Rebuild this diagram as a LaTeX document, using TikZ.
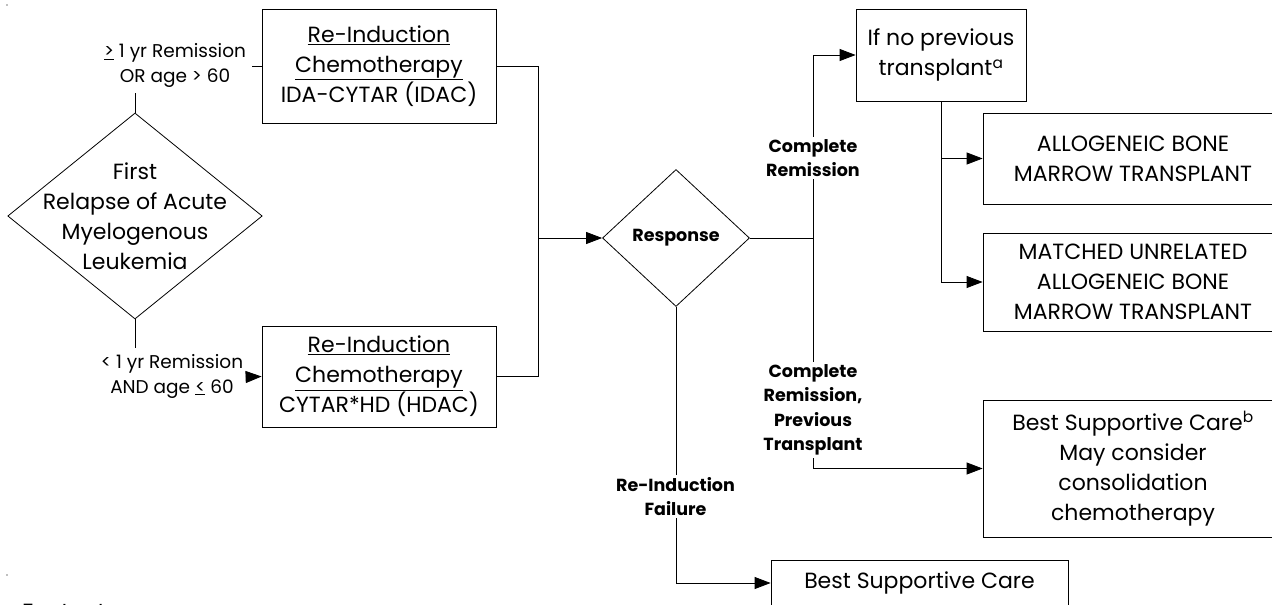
\documentclass[tikz,border=0pt]{standalone}
\usepackage{fontspec}
\setmainfont{Poppins}
\usetikzlibrary{arrows.meta,shapes.geometric}
\newcommand{\boxfont}{\fontsize{22}{30}\selectfont}
\newcommand{\labfont}{\fontsize{18.5}{24.5}\selectfont}
\newcommand{\blabfont}{\bfseries\fontsize{17.5}{24.5}\selectfont}
\tikzset{
  stepbox/.style={draw, line width=0.8pt, align=center, inner sep=0pt, font=\boxfont},
  dia/.style={draw, diamond, line width=0.8pt, inner sep=0pt, aspect=1},
  lab/.style={align=center, font=\labfont, inner sep=0pt},
  blab/.style={align=center, font=\blabfont, fill=white, inner sep=2pt},
  conn/.style={line width=0.8pt},
  arr/.style={line width=0.8pt, -{Triangle[length=16pt,width=12pt]}}
}
\begin{document}
\begin{tikzpicture}[x=1pt,y=-1pt]
\useasboundingbox (0,0) rectangle (1272,605);
\clip (0,0) rectangle (1272,605);
\fill[white] (0,0) rectangle (1272,605);
% tiny marks
\fill[gray] (7,5) circle (0.8);
\fill[gray] (7,575) circle (0.8);
% nodes
\node[dia, minimum width=254.5pt, minimum height=206pt] (d1) at (135,216) {};
\node[align=center, font=\boxfont] (d1t) at (135,216) {First\\Relapse of Acute\\Myelogenous\\Leukemia};
\node[stepbox, minimum width=234pt, minimum height=114pt] (b1) at (379,66)
  {\underline{Re-Induction}\\\underline{Chemotherapy}\\IDA-CYTAR (IDAC)};
\node[stepbox, minimum width=234pt, minimum height=101pt] (b2) at (379,376.5)
  {\underline{Re-Induction}\\\underline{Chemotherapy}\\CYTAR*HD (HDAC)};
\node[lab] (l1) at (175,65.5) {\underline{>} 1 yr Remission\\OR age > 60};
\node[lab] (l2) at (172,376.5) {< 1 yr Remission\\AND age \underline{<} 60};
\node[dia, minimum width=147pt, minimum height=137pt] (d2) at (676,238) {};
\node[font=\blabfont] (d2t) at (676,238) {Response};
\node[stepbox, minimum width=170pt, minimum height=92pt] (b3) at (941,55)
  {If no previous\\transplant\textsuperscript{a}};
\node[stepbox, minimum width=300pt, minimum height=91pt] (b4) at (1133,158.5)
  {ALLOGENEIC BONE\\MARROW TRANSPLANT};
\node[stepbox, minimum width=300pt, minimum height=98pt] (b5) at (1133,282)
  {MATCHED UNRELATED\\ALLOGENEIC BONE\\MARROW TRANSPLANT};
\node[stepbox, minimum width=300pt, minimum height=137pt] (b6) at (1133,468.5)
  {Best Supportive Care\textsuperscript{b}\\May consider\\consolidation\\chemotherapy};
\node[stepbox, minimum width=297pt, minimum height=46pt] (b7) at (919.5,583)
  {Best Supportive Care};
\node[font=\boxfont, anchor=north west, inner sep=0pt] (fn) at (22,603.5) {Footnotes};
% coordinates
\coordinate (c1) at (135,93);
\coordinate (c2) at (252,66);
\coordinate (c3) at (135,348);
\coordinate (c4) at (246,377);
\coordinate (j1) at (538,238);
\coordinate (j2) at (813,238);
% connectors
\draw[conn] (d1.north) -- (c1);
\draw[conn] (c2) -- (b1.west);
\draw[conn] (d1.south) -- (c3);
\draw[arr] (c4) -- (b2.west);
\draw[conn] (b1.east) -| (j1);
\draw[conn] (b2.east) -| (j1);
\draw[arr] (j1) -- (d2.west);
\draw[conn] (d2.east) -- (j2);
\draw[arr] (j2) |- (b3.west);
\draw[arr] (j2) |- (b6.west);
\draw[arr] (b3.south) |- (b4.west);
\draw[arr] (b3.south) |- (b5.west);
\draw[arr] (d2.south) |- (b7.west);
% branch labels
\node[blab] (lcr) at (813,158) {Complete\\Remission};
\node[blab] (lcp) at (813,410) {Complete\\Remission,\\Previous\\Transplant};
\node[blab] (lrf) at (675.5,496.5) {Re-Induction\\Failure};
\end{tikzpicture}
\end{document}
